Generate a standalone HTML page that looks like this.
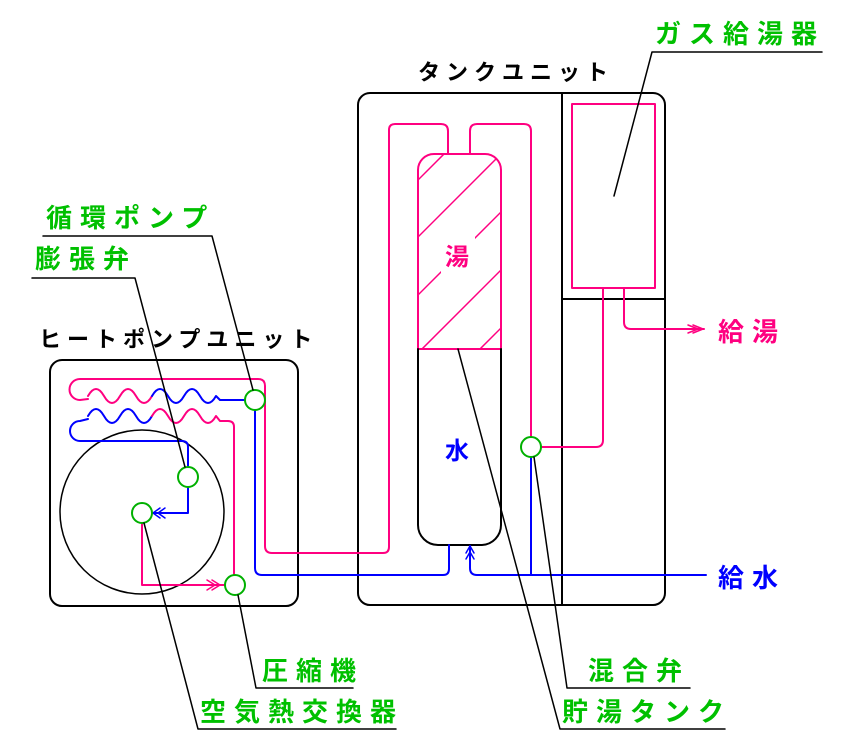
<!DOCTYPE html>
<html><head><meta charset="utf-8"><style>
html,body{margin:0;padding:0;background:#fff;}
svg{display:block;}
text{font-family:"Liberation Sans","Noto Sans CJK JP",sans-serif;font-weight:bold;}
.g{fill:#00c000;font-size:26px;letter-spacing:8px;}
.k{fill:#000;font-size:22px;letter-spacing:6px;}
</style></head><body>
<svg width="854" height="751" viewBox="0 0 854 751" xmlns="http://www.w3.org/2000/svg">
<defs>
<clipPath id="hot"><path d="M418,349 L418,170 A16,16 0 0 1 434,154 L485,154 A16,16 0 0 1 501,170 L501,349 Z"/></clipPath>
</defs>
<g fill="none" stroke-linecap="round" stroke-linejoin="round">
<rect x="50" y="360" width="248" height="246" rx="12" stroke="#000" stroke-width="2"/>
<circle cx="142" cy="512" r="82" stroke="#000" stroke-width="1.5"/>
<rect x="358" y="93" width="307" height="512" rx="12" stroke="#000" stroke-width="2"/>
<line x1="562" y1="93" x2="562" y2="605" stroke="#000" stroke-width="2"/>
<line x1="562" y1="299" x2="665" y2="299" stroke="#000" stroke-width="2"/>
<rect x="572" y="104" width="83" height="184" stroke="#ff0080" stroke-width="2"/>
<g clip-path="url(#hot)" stroke="#ff0080" stroke-width="1.5">
<line x1="380" y1="218" x2="460" y2="138"/>
<line x1="400" y1="255" x2="520" y2="135"/>
<line x1="400" y1="313" x2="520" y2="193"/>
<line x1="400" y1="371" x2="520" y2="251"/>
<line x1="400" y1="429" x2="520" y2="309"/>
</g>
<rect x="441" y="236" width="34" height="40" fill="#fff" stroke="none"/>
<path d="M418,349 L418,170 A16,16 0 0 1 434,154 L485,154 A16,16 0 0 1 501,170 L501,349 Z" stroke="#ff0080" stroke-width="2"/>
<path d="M418,349 L418,525 A20,20 0 0 0 438,545 L482,545 A20,20 0 0 0 501,525 L501,349" stroke="#000" stroke-width="2"/>
<path d="M88,399 L80,400 A10.5,10.5 0 0 1 80,379 L258,379 Q265,379 265,386 L265,546 Q265,553 272,553 L383,553 Q389,553 389,547 L389,130 Q389,124 395,124 L441,124 Q448,124 448,131 L448,154" stroke="#ff0080" stroke-width="2"/>
<path d="M88,396 Q96,382 104,396 T120,396 T136,396 T152,396" stroke="#ff0080" stroke-width="2"/>
<path d="M152,396 Q160,382 168,396 T184,396 T200,396 T216,396 L220,400 L245,400" stroke="#0000ff" stroke-width="2"/>
<path d="M88,416 Q96,402 104,416 T120,416 T136,416 T152,416" stroke="#0000ff" stroke-width="2"/>
<path d="M152,416 Q160,402 168,416 T184,416 T200,416 T216,416 L220,421 L228,421 Q234,421 234,427 L234,575" stroke="#ff0080" stroke-width="2"/>
<path d="M88,419 L80,421 A10,10 0 0 0 80,441 L182,441 Q188,441 188,447 L188,467" stroke="#0000ff" stroke-width="2"/>
<path d="M188,487 L188,513 L152,513" stroke="#0000ff" stroke-width="2"/>
<path d="M160,508 L153,513 L160,518 M165,508 L158,513 L165,518" stroke="#0000ff" stroke-width="1.5"/>
<path d="M142,523 L142,585 L225,585" stroke="#ff0080" stroke-width="2"/>
<path d="M212,580 L220,585 L212,590 M207,580 L215,585 L207,590" stroke="#ff0080" stroke-width="1.5"/>
<path d="M255,410 L255,568 Q255,575 262,575 L443,575 Q449,575 449,569 L449,545" stroke="#0000ff" stroke-width="2"/>
<path d="M470,546 L470,568 Q470,575 477,575 L706,575" stroke="#0000ff" stroke-width="2"/>
<path d="M466,553 L470,546 L474,553 M466,559 L470,552 L474,559" stroke="#0000ff" stroke-width="1.5"/>
<line x1="531" y1="457" x2="531" y2="575" stroke="#0000ff" stroke-width="2"/>
<path d="M470,154 L470,131 Q470,124 477,124 L524,124 Q531,124 531,131 L531,437" stroke="#ff0080" stroke-width="2"/>
<path d="M541,447 L596,447 Q603,447 603,440 L603,288" stroke="#ff0080" stroke-width="2"/>
<path d="M624,288 L624,322 Q624,329 631,329 L704,329" stroke="#ff0080" stroke-width="2"/>
<path d="M693,325 L703,329 L693,333 M688,325 L698,329 L688,333" stroke="#ff0080" stroke-width="1.5"/>
<g stroke="#00b000" stroke-width="2" fill="#fff">
<circle cx="255" cy="400" r="10"/>
<circle cx="188" cy="477" r="10"/>
<circle cx="142" cy="513" r="10"/>
<circle cx="235" cy="585" r="10"/>
<circle cx="531" cy="447" r="10"/>
</g>
<g stroke="#000" stroke-width="1.5">
<path d="M43,236 L212,236 L253,390"/>
<path d="M32,278 L135,278 L185,467"/>
<path d="M822,52 L652,52 L614,196"/>
<path d="M353,688 L256,688 L238,595"/>
<path d="M396,729 L198,729 L144,523"/>
<path d="M690,688 L567,688 L534,457"/>
<path d="M725,729 L560,729 L458,349"/>
</g>
</g>
<text class="g" x="655" y="43">ガス給湯器</text>
<text class="k" x="418" y="80">タンクユニット</text>
<text class="g" x="46" y="227">循環ポンプ</text>
<text class="g" x="35" y="268">膨張弁</text>
<text class="k" x="39" y="347">ヒートポンプユニット</text>
<text class="g" x="262" y="680">圧縮機</text>
<text class="g" x="200" y="721">空気熱交換器</text>
<text class="g" x="588" y="680">混合弁</text>
<text class="g" x="562" y="721">貯湯タンク</text>
<text x="718" y="341" style="fill:#ff0080;font-size:26px;letter-spacing:8px;">給湯</text>
<text x="718" y="587" style="fill:#0000ff;font-size:26px;letter-spacing:8px;">給水</text>
<text x="445" y="265" style="fill:#ff0080;font-size:24px;">湯</text>
<text x="445" y="459" style="fill:#0000ff;font-size:24px;">水</text>
</svg>
</body></html>
